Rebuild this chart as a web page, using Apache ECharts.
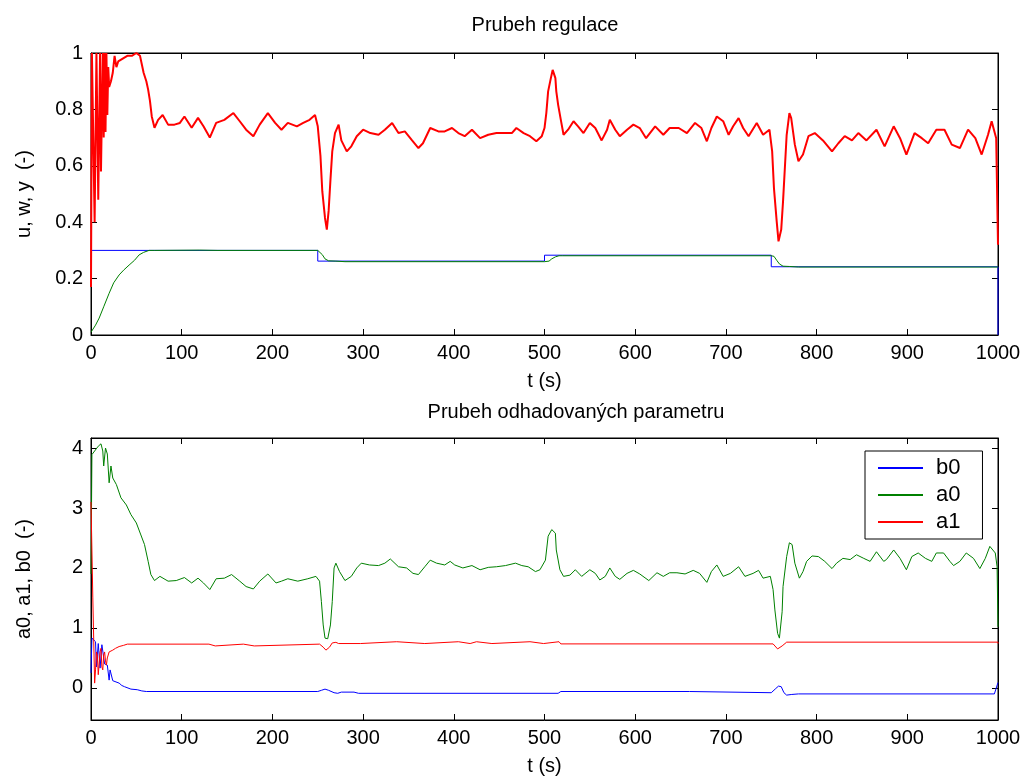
<!DOCTYPE html>
<html>
<head>
<meta charset="utf-8">
<script src="https://cdn.jsdelivr.net/npm/echarts@6/dist/echarts.min.js"></script>
<style>
html,body{margin:0;padding:0;background:#fff;}
#chart{width:1029px;height:782px;}
</style>
</head>
<body>
<div id="chart"></div>
<script>
// ---------- DATA (time [s], value) ----------
// Upper plot: u (control), w (setpoint), y (output)
const uData = [[0,0.17],[1,1.0],[3,1.0],[4,0.40],[5,0.40],[6,1.0],[7,1.0],[8,0.48],[9,0.48],[10,1.0],[11,0.58],[12,0.58],[13,1.0],[14,0.70],[15,1.0],[16,0.72],[17,1.0],[18,0.78],[19,0.95],[20,0.88],[22,0.90],[24,0.93],[26,0.99],[28,0.95],[30,0.97],[35,0.98],[40,0.99],[45,0.99],[50,1.0],[54,0.99],[58,0.93],[61,0.90],[63,0.87],[65,0.83],[67,0.775],[70,0.735],[74,0.763],[79,0.78],[85,0.746],[92,0.746],[98,0.752],[103,0.775],[111,0.735],[118,0.77],[124,0.74],[131,0.70],[138,0.752],[147,0.763],[157,0.787],[164,0.758],[171,0.728],[179,0.705],[186,0.746],[195,0.787],[203,0.752],[210,0.728],[217,0.752],[227,0.74],[234,0.752],[241,0.763],[247,0.78],[250,0.74],[253,0.634],[255,0.51],[258,0.415],[260,0.374],[262,0.44],[264,0.55],[266,0.651],[269,0.716],[273,0.746],[276,0.69],[282,0.651],[287,0.669],[293,0.705],[300,0.728],[308,0.716],[317,0.71],[324,0.728],[332,0.752],[339,0.716],[346,0.722],[354,0.69],[361,0.663],[366,0.68],[374,0.734],[383,0.722],[390,0.722],[398,0.734],[405,0.716],[412,0.705],[420,0.728],[429,0.698],[438,0.71],[447,0.716],[457,0.716],[464,0.716],[469,0.734],[477,0.716],[484,0.705],[491,0.687],[497,0.705],[500,0.734],[502,0.787],[504,0.864],[507,0.911],[509,0.94],[512,0.911],[513,0.864],[515,0.817],[518,0.763],[521,0.71],[526,0.728],[532,0.758],[537,0.74],[543,0.716],[550,0.752],[556,0.734],[563,0.69],[569,0.728],[572,0.763],[578,0.728],[583,0.705],[591,0.728],[598,0.746],[605,0.734],[612,0.698],[622,0.74],[631,0.71],[638,0.734],[648,0.734],[657,0.716],[666,0.752],[673,0.734],[679,0.687],[684,0.734],[690,0.775],[697,0.758],[703,0.71],[708,0.74],[714,0.769],[719,0.734],[725,0.705],[734,0.752],[741,0.71],[748,0.728],[751,0.651],[753,0.52],[756,0.403],[758,0.332],[761,0.374],[763,0.474],[765,0.592],[767,0.71],[770,0.787],[772,0.769],[776,0.675],[780,0.616],[785,0.64],[791,0.705],[798,0.716],[807,0.69],[817,0.651],[824,0.68],[831,0.705],[839,0.69],[846,0.716],[855,0.69],[866,0.728],[875,0.669],[885,0.74],[892,0.698],[899,0.64],[908,0.716],[916,0.698],[923,0.68],[932,0.728],[941,0.728],[949,0.675],[958,0.663],[967,0.728],[975,0.698],[982,0.64],[989,0.71],[993,0.758],[998,0.698],[1000,0.32]];

const wData = [[0,0.3],[250,0.3],[250,0.262],[500,0.262],[500,0.283],[750,0.283],[750,0.242],[1000,0.242],[1000,0]];

const yData = [[0,0.01],[5,0.035],[9,0.06],[14,0.10],[20,0.148],[25,0.185],[31,0.213],[36,0.23],[42,0.248],[48,0.265],[53,0.284],[58,0.293],[64,0.30],[70,0.30],[120,0.301],[140,0.30],[250,0.30],[252,0.298],[255,0.285],[258,0.27],[262,0.263],[270,0.262],[280,0.26],[500,0.26],[505,0.262],[508,0.27],[512,0.277],[516,0.281],[520,0.281],[750,0.281],[753,0.279],[756,0.265],[759,0.252],[763,0.244],[770,0.243],[780,0.241],[1000,0.241]];

// Lower plot: estimated parameters
const b0Data = [[0,0.25],[1,0.83],[3,0.80],[5,0.77],[6,0.35],[7,0.33],[8,0.74],[9,0.74],[10,0.33],[11,0.33],[12,0.72],[13,0.70],[15,0.40],[16,0.38],[18,0.38],[20,0.13],[21,0.30],[22,0.30],[24,0.12],[26,0.10],[31,0.08],[34,0.04],[37,0.02],[44,-0.02],[51,-0.03],[56,-0.05],[61,-0.06],[250,-0.06],[254,-0.04],[258,-0.02],[262,-0.04],[268,-0.08],[272,-0.09],[276,-0.07],[290,-0.07],[295,-0.09],[515,-0.09],[518,-0.06],[660,-0.06],[662,-0.08],[750,-0.08],[755,-0.01],[758,0.03],[761,0.02],[764,-0.08],[767,-0.12],[772,-0.11],[780,-0.10],[996,-0.10],[998,-0.12],[1000,0.09]];

const a0Data = [[0,1.9],[1,3.89],[4,3.95],[8,4.03],[11,4.07],[13,3.95],[14,3.70],[16,4.0],[18,3.9],[20,3.42],[22,3.7],[24,3.5],[28,3.39],[33,3.17],[39,3.05],[44,2.89],[50,2.75],[55,2.55],[59,2.39],[63,2.11],[66,1.89],[70,1.79],[76,1.86],[85,1.78],[94,1.79],[103,1.84],[111,1.75],[118,1.83],[124,1.75],[131,1.64],[138,1.82],[147,1.83],[155,1.89],[164,1.78],[171,1.69],[179,1.65],[186,1.78],[195,1.90],[204,1.75],[210,1.78],[217,1.82],[228,1.78],[239,1.82],[248,1.86],[252,1.78],[254,1.44],[256,1.05],[258,0.83],[261,0.82],[264,1.05],[266,1.44],[268,2.0],[270,2.08],[274,1.94],[280,1.79],[287,1.86],[293,2.0],[298,2.08],[307,2.05],[317,2.04],[324,2.08],[330,2.15],[339,2.02],[348,2.0],[355,1.91],[361,1.89],[368,2.02],[374,2.13],[381,2.08],[390,2.05],[396,2.11],[401,2.05],[410,2.0],[420,2.04],[429,1.97],[438,2.01],[447,2.02],[457,2.04],[468,2.08],[475,2.04],[482,2.02],[490,1.94],[495,1.97],[501,2.13],[504,2.53],[508,2.64],[512,2.58],[513,2.30],[517,1.97],[521,1.86],[528,1.88],[534,1.97],[541,1.86],[550,1.97],[556,1.91],[561,1.80],[567,1.86],[572,2.0],[578,1.86],[583,1.81],[591,1.91],[598,1.96],[605,1.90],[615,1.79],[624,1.92],[631,1.86],[638,1.92],[646,1.92],[655,1.90],[664,1.96],[671,1.91],[679,1.76],[684,1.94],[690,2.05],[697,1.86],[705,1.91],[714,2.02],[721,1.86],[730,1.91],[736,1.96],[741,1.83],[749,1.86],[752,1.64],[754,1.30],[757,0.91],[759,0.83],[762,1.27],[763,1.69],[767,2.19],[770,2.42],[773,2.39],[776,2.08],[781,1.83],[785,1.94],[789,2.11],[795,2.20],[802,2.19],[809,2.11],[817,1.99],[822,2.08],[829,2.16],[837,2.14],[844,2.22],[852,2.16],[859,2.11],[866,2.27],[874,2.11],[877,2.14],[885,2.30],[892,2.16],[899,1.97],[905,2.19],[912,2.25],[920,2.16],[927,2.11],[932,2.25],[940,2.25],[947,2.11],[951,2.04],[958,2.11],[965,2.25],[973,2.16],[980,1.99],[986,2.16],[991,2.36],[997,2.25],[999,2.02],[1000,1.02]];

const a1Data = [[0,3.1],[2,1.5],[4,0.08],[5,0.3],[6,0.6],[7,0.55],[8,0.22],[9,0.25],[10,0.6],[11,0.66],[12,0.35],[13,0.30],[14,0.55],[15,0.60],[16,0.45],[17,0.38],[18,0.5],[20,0.6],[22,0.6],[24,0.63],[27,0.66],[31,0.69],[36,0.71],[40,0.73],[130,0.73],[131,0.70],[137,0.70],[138,0.73],[168,0.73],[170,0.70],[180,0.70],[182,0.73],[252,0.73],[256,0.68],[259,0.63],[263,0.68],[266,0.75],[270,0.76],[273,0.74],[297,0.74],[299,0.77],[337,0.77],[339,0.74],[368,0.74],[370,0.77],[405,0.77],[407,0.74],[418,0.74],[419,0.77],[425,0.77],[427,0.74],[442,0.74],[444,0.77],[484,0.77],[486,0.74],[499,0.74],[501,0.77],[516,0.77],[518,0.734],[752,0.734],[757,0.65],[762,0.70],[767,0.763],[1000,0.763],[1000,0.74]];

// ---------- CHART ----------
const FONT = '"Liberation Sans", Arial, Helvetica, sans-serif';
const C_BLUE = '#0000ff', C_GREEN = '#008000', C_RED = '#ff0000';
const chart = echarts.init(document.getElementById('chart'), null, {renderer: 'canvas'});

const G1 = {left: 91, top: 53, width: 907, height: 282, show: true, borderColor: '#000', borderWidth: 1, backgroundColor: 'transparent'};
const G2 = {left: 91, top: 438, width: 907, height: 282, show: true, borderColor: '#000', borderWidth: 1, backgroundColor: 'transparent'};

function xAx(grid, pos, show, name) {
  return {
    type: 'value', gridIndex: grid, position: pos, min: 0, max: 1000, interval: 100,
    axisLine: {show: true, onZero: false, lineStyle: {color: '#000', width: 1}},
    axisTick: {show: true, inside: true, length: 6, lineStyle: {color: '#000'}},
    axisLabel: {show: show, color: '#000', fontSize: 20, fontFamily: FONT, margin: 8,
      formatter: function (v) { return String(v); }},
    splitLine: {show: false},
    name: name || '', nameLocation: 'middle', nameGap: 36,
    nameTextStyle: {color: '#000', fontSize: 20, fontFamily: FONT}
  };
}
function yAx(grid, pos, show, opts, name, hideEnds) {
  return Object.assign({
    type: 'value', gridIndex: grid, position: pos,
    axisLine: {show: true, onZero: false, lineStyle: {color: '#000', width: 1}},
    axisTick: {show: true, inside: true, length: 6, lineStyle: {color: '#000'}},
    axisLabel: {show: show, color: '#000', fontSize: 20, fontFamily: FONT, margin: 8,
      showMinLabel: !hideEnds, showMaxLabel: !hideEnds},
    splitLine: {show: false},
    name: name || '', nameLocation: 'middle', nameGap: 57, nameRotate: 90,
    nameTextStyle: {color: '#000', fontSize: 20, fontFamily: FONT}
  }, opts);
}
const yTop = {min: 0, max: 1, interval: 0.2};
const yBot = {min: -0.535, max: 4.167, minInterval: 1, maxInterval: 1};

function line(name, data, color, xi, yi, w) {
  return {name: name, type: 'line', data: data, xAxisIndex: xi, yAxisIndex: yi,
    symbol: 'none', showSymbol: false, animation: false, silent: true, clip: true,
    lineStyle: {color: color, width: w || 1}, itemStyle: {color: color}};
}

const option = {
  backgroundColor: '#fff',
  animation: false,
  grid: [G1, G2],
  xAxis: [xAx(0, 'bottom', true, 't (s)'), xAx(0, 'top', false), xAx(1, 'bottom', true, 't (s)'), xAx(1, 'top', false)],
  yAxis: [
    yAx(0, 'left', true, yTop, 'u, w, y  (-)'),
    yAx(0, 'right', false, yTop),
    yAx(1, 'left', true, yBot, 'a0, a1, b0  (-)', true),
    yAx(1, 'right', false, yBot, '', true)
  ],
  legend: {
    left: 865, top: 451, orient: 'vertical', data: ['b0', 'a0', 'a1'],
    itemWidth: 45, itemHeight: 2, itemGap: 5,
    padding: [6, 22, 6, 12],
    borderColor: '#000', borderWidth: 1, backgroundColor: '#fff',
    textStyle: {color: '#000', fontSize: 22, fontFamily: FONT, padding: [0, 0, 0, 8]}
  },
  graphic: [
    {type: 'text', x: 545, y: 25, style: {text: 'Prubeh regulace', fill: '#000', font: '20px ' + FONT, textAlign: 'center', textVerticalAlign: 'middle'}},
    {type: 'text', x: 576, y: 412, style: {text: 'Prubeh odhadovaných parametru', fill: '#000', font: '20px ' + FONT, textAlign: 'center', textVerticalAlign: 'middle'}}
  ],
  series: [
    line('w', wData, C_BLUE, 0, 0),
    line('y', yData, C_GREEN, 0, 0),
    line('u', uData, C_RED, 0, 0, 2),
    line('b0', b0Data, C_BLUE, 2, 2),
    line('a0', a0Data, C_GREEN, 2, 2),
    line('a1', a1Data, C_RED, 2, 2)
  ]
};
chart.setOption(option);
</script>
</body>
</html>
